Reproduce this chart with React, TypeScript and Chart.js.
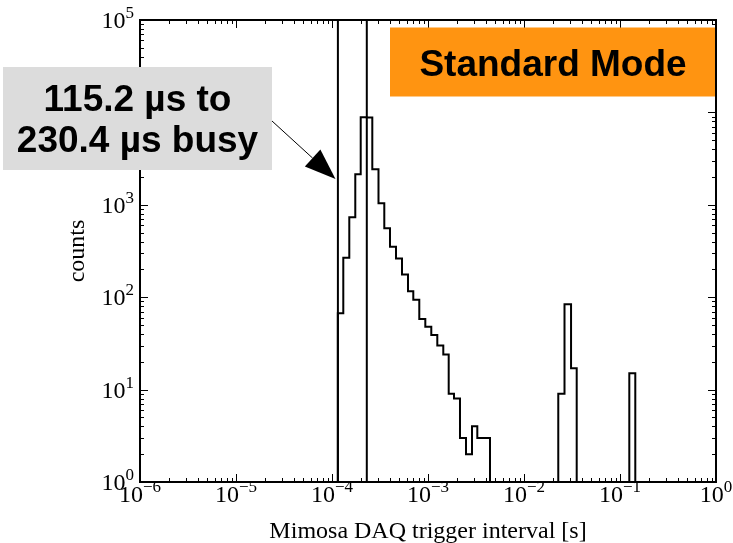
import React, { useEffect, useRef } from 'react';
import { Chart, registerables } from 'chart.js';

Chart.register(...registerables);

// ---- data ----
const busyLines = [1.152e-4, 2.304e-4];

const mainEdges = [
  1.15e-4, 1.311e-4, 1.514e-4, 1.748e-4, 1.991e-4, 2.298e-4, 2.629e-4, 3.05e-4,
  3.505e-4, 4.019e-4, 4.642e-4, 5.36e-4, 6.189e-4, 7.027e-4, 8.114e-4, 9.374e-4,
  1.082e-3, 1.25e-3, 1.443e-3, 1.643e-3, 1.866e-3, 2.154e-3, 2.488e-3, 2.873e-3,
  3.263e-3, 3.794e-3, 4.424e-3,
];
const mainCounts = [
  67, 267, 732, 2140, 8850, 8800, 2420, 1040, 557, 352, 262, 176, 116, 94, 58, 48,
  39, 30, 24, 9, 8, 3, 2, 4, 3, 3,
];
const midEdges = [0.02275, 0.02642, 0.03091, 0.0354];
const midCounts = [9, 84, 17];
const farEdges = [0.125, 0.1443];
const farCounts = [15];

const xDecades = [-6, -5, -4, -3, -2, -1, 0];
const yDecades = [0, 1, 2, 3, 4, 5];
const xTitle = 'Mimosa DAQ trigger interval [s]';
const yTitle = 'counts';
const modeLabel = 'Standard Mode';
const busyLabel = ['115.2 µs to', '230.4 µs busy'];

const X_MIN = 1e-6;
const X_MAX = 1;
const Y_MIN = 1;
const Y_MAX = 1e5;

const SERIF = '"Liberation Serif", "Times New Roman", serif';
const SANS = '"Liberation Sans", Arial, sans-serif';

function stepPoints(edges: number[], counts: number[], base: number) {
  const pts: { x: number; y: number }[] = [{ x: edges[0], y: base }];
  counts.forEach((c, i) => pts.push({ x: edges[i], y: c }));
  pts.push({ x: edges[edges.length - 1], y: base });
  return pts;
}

function tickValues(decades: number[], maxVal: number) {
  const out: { v: number; major: boolean }[] = [];
  for (const k of decades) {
    for (let m = 1; m <= 9; m++) {
      const v = Number((m * Math.pow(10, k)).toPrecision(6));
      if (v > maxVal * 1.0000001) break;
      out.push({ v, major: m === 1 });
    }
  }
  return out;
}

function expText(k: number) {
  return k < 0 ? '\u2212' + String(-k) : String(k);
}

function drawPow(ctx: CanvasRenderingContext2D, k: number, x: number, base: number, align: 'center' | 'right') {
  ctx.font = `24px ${SERIF}`;
  const w10 = ctx.measureText('10').width;
  ctx.font = `17px ${SERIF}`;
  const e = expText(k);
  const we = ctx.measureText(e).width;
  const total = w10 + we;
  const start = align === 'center' ? x - total / 2 : x - total;
  ctx.textAlign = 'left';
  ctx.textBaseline = 'alphabetic';
  ctx.font = `24px ${SERIF}`;
  ctx.fillText('10', start, base);
  ctx.font = `17px ${SERIF}`;
  ctx.fillText(e, start + w10, base - 10);
}

const axesPlugin = {
  id: 'mplAxes',
  beforeDraw(chart: any) {
    const { ctx, width, height } = chart;
    ctx.save();
    ctx.fillStyle = '#fff';
    ctx.fillRect(0, 0, width, height);
    ctx.restore();
  },
  afterDatasetsDraw(chart: any) {
    const { ctx, chartArea: a } = chart;
    const xs = chart.scales.x;
    const ys = chart.scales.y;
    ctx.save();
    ctx.strokeStyle = '#000';
    ctx.fillStyle = '#000';
    ctx.lineWidth = 1;
    ctx.beginPath();
    for (const t of tickValues(xDecades, X_MAX)) {
      const px = Math.round(xs.getPixelForValue(t.v)) + 0.5;
      const len = t.major ? 8 : 4;
      ctx.moveTo(px, a.bottom);
      ctx.lineTo(px, a.bottom - len);
      ctx.moveTo(px, a.top);
      ctx.lineTo(px, a.top + len);
    }
    for (const t of tickValues(yDecades, Y_MAX)) {
      const py = Math.round(ys.getPixelForValue(t.v)) + 0.5;
      const len = t.major ? 8 : 4;
      ctx.moveTo(a.left, py);
      ctx.lineTo(a.left + len, py);
      ctx.moveTo(a.right, py);
      ctx.lineTo(a.right - len, py);
    }
    ctx.stroke();

    ctx.lineWidth = 2;
    ctx.strokeRect(a.left, a.top, a.right - a.left, a.bottom - a.top);

    // tick labels
    for (const k of xDecades) {
      const px = xs.getPixelForValue(Math.pow(10, k));
      drawPow(ctx, k, px, a.bottom + 20, 'center');
    }
    for (const k of yDecades) {
      const py = ys.getPixelForValue(Math.pow(10, k));
      drawPow(ctx, k, a.left - 6, py + 8, 'right');
    }

    // axis titles
    ctx.font = `24px ${SERIF}`;
    ctx.textAlign = 'center';
    ctx.textBaseline = 'alphabetic';
    ctx.fillText(xTitle, (a.left + a.right) / 2, 538);
    ctx.save();
    ctx.translate(84, (a.top + a.bottom) / 2);
    ctx.rotate(-Math.PI / 2);
    ctx.fillText(yTitle, 0, 0);
    ctx.restore();
    ctx.restore();
  },
  afterDraw(chart: any) {
    const { ctx } = chart;
    ctx.save();
    // orange label box
    ctx.fillStyle = '#ff9411';
    ctx.fillRect(390, 27.5, 325, 69);
    ctx.fillStyle = '#000';
    ctx.font = `bold 37px ${SANS}`;
    ctx.textAlign = 'center';
    ctx.textBaseline = 'alphabetic';
    ctx.fillText(modeLabel, 553, 76);

    // grey busy box
    ctx.fillStyle = '#dcdcdc';
    ctx.fillRect(3, 67, 269, 103);
    ctx.fillStyle = '#000';
    ctx.fillText(busyLabel[0], 137.5, 111);
    ctx.fillText(busyLabel[1], 137.5, 151.5);

    // arrow
    const sx = 272, sy = 121, tx = 335.5, ty = 179;
    const dx = tx - sx, dy = ty - sy;
    const L = Math.hypot(dx, dy);
    const ux = dx / L, uy = dy / L;
    const headLen = 31, headHalf = 11.5;
    const bx = tx - ux * headLen, by = ty - uy * headLen;
    ctx.strokeStyle = '#000';
    ctx.lineWidth = 1;
    ctx.beginPath();
    ctx.moveTo(sx, sy);
    ctx.lineTo(bx, by);
    ctx.stroke();
    ctx.beginPath();
    ctx.moveTo(tx, ty);
    ctx.lineTo(bx - uy * headHalf, by + ux * headHalf);
    ctx.lineTo(bx + uy * headHalf, by - ux * headHalf);
    ctx.closePath();
    ctx.fill();
    ctx.restore();
  },
};

export default function App() {
  const ref = useRef<HTMLCanvasElement | null>(null);

  useEffect(() => {
    if (!ref.current) return;
    const lineStyle = {
      borderColor: '#000',
      borderWidth: 2,
      pointRadius: 0,
      pointHoverRadius: 0,
      fill: false,
      tension: 0,
    };
    const datasets: any[] = [
      { ...lineStyle, label: 'main', data: stepPoints(mainEdges, mainCounts, Y_MIN), stepped: 'before' },
      { ...lineStyle, label: 'mid', data: stepPoints(midEdges, midCounts, Y_MIN), stepped: 'before' },
      { ...lineStyle, label: 'far', data: stepPoints(farEdges, farCounts, Y_MIN), stepped: 'before' },
      ...busyLines.map((b, i) => ({
        ...lineStyle,
        label: 'busy' + i,
        data: [{ x: b, y: Y_MIN }, { x: b, y: Y_MAX }],
      })),
    ];
    const chart = new Chart(ref.current, {
      type: 'line',
      data: { datasets },
      plugins: [axesPlugin],
      options: {
        animation: false,
        responsive: false,
        maintainAspectRatio: false,
        parsing: true,
        layout: { padding: { left: 0, top: 20, right: 17, bottom: 0 } },
        plugins: {
          legend: { display: false },
          tooltip: { enabled: false },
          title: { display: false },
        },
        events: [],
        scales: {
          x: {
            type: 'logarithmic',
            min: X_MIN,
            max: X_MAX,
            ticks: { display: false },
            grid: { display: false, drawTicks: false },
            border: { display: false },
            afterFit: (s: any) => { s.height = 61; },
          },
          y: {
            type: 'logarithmic',
            min: Y_MIN,
            max: Y_MAX,
            ticks: { display: false },
            grid: { display: false, drawTicks: false },
            border: { display: false },
            afterFit: (s: any) => { s.width = 140; },
          },
        },
      } as any,
    });
    return () => chart.destroy();
  }, []);

  return (
    <div style={{ position: 'fixed', left: 0, top: 0, width: 733, height: 543, background: '#fff' }}>
      <canvas ref={ref} width={733} height={543} style={{ display: 'block', width: 733, height: 543 }} />
    </div>
  );
}
